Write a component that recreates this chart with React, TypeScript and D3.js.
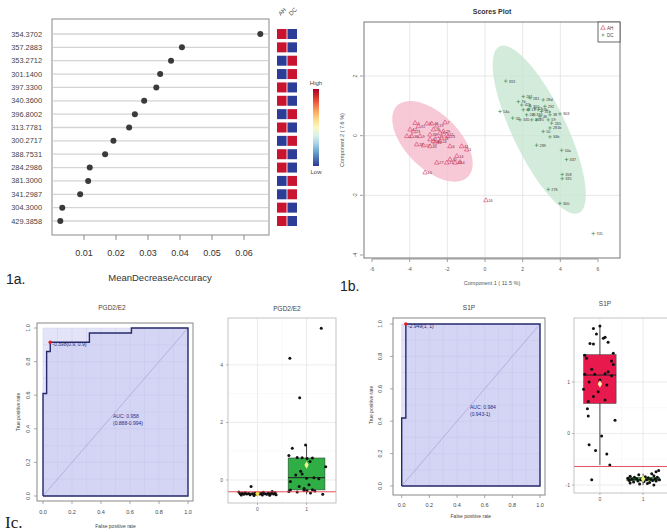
import React from 'react';
import * as d3 from 'd3';

const FONT = "'Liberation Sans', Arial, Helvetica, sans-serif";

// ---------- 1a: variable importance ----------
const featureLabels = ['354.3702','357.2883','353.2712','301.1400','397.3300','340.3600','396.8002','313.7781','300.2717','388.7531','284.2986','381.3000','341.2987','304.3000','429.3858'];
const meanDecreaseAccuracy = [0.0651,0.0406,0.0372,0.0338,0.0326,0.0288,0.0259,0.0241,0.0192,0.0166,0.0118,0.0113,0.0088,0.0032,0.0026];
const ahLevel = [1,1,0,0,1,1,0,1,0,1,1,0,0,1,1];
const dcLevel = [0,0,1,1,0,0,1,0,1,0,0,1,1,0,0];
const heatGroups = ['AH','DC'];
const accuracyTicks = [0.01,0.02,0.03,0.04,0.05,0.06];

// ---------- 1b: scores plot ----------
const ahScores: [number, number][] = [
  [-3.98,0.2],[-3.71,0.42],[-3.54,0.31],[-3.09,0.4],[-2.83,0.4],[-2.12,0.44],[-2.56,0.33],[-2.74,0.2],
  [-2.39,0.09],[-2.03,0.03],[-2.56,-0.02],[-2.92,-0.13],[-3.45,-0.02],[-3.89,-0.02],[-4.15,-0.02],[-3.63,-0.3],
  [-3.27,-0.33],[-2.92,-0.36],[-2.65,-0.24],[-2.39,-0.19],[-1.86,-0.36],[-1.24,-0.36],[-0.97,-0.47],[-1.5,-0.69],
  [-1.86,-0.8],[-2.03,-0.91],[-1.59,-0.91],[-1.33,-0.89],[-2.56,-0.91],[-3.18,-1.24],[-2.92,0.03],[-2.3,-0.08],
  [-2.21,0.14],[-1.95,-0.02],[-2.74,-0.19],[-3.8,0.14],[0.05,-2.17]
];
const ahLabels = ['12','5','31','8','44','7','19','26','3','15','22','40','9','36','2','28','17','33','11','24','6','41','1','14','30','21','38','4','27','10','35','18','29','13','39','23','16'];
const dcScores: [number, number][] = [
  [1.1,1.83],[0.8,0.81],[1.47,0.59],[1.86,0.53],[2.03,1.31],[1.77,1.14],[2.39,1.26],[3.09,1.2],
  [2.39,0.98],[2.65,0.92],[2.83,0.87],[2.03,0.87],[2.21,0.7],[2.56,0.7],[2.92,0.64],[2.48,0.53],
  [2.74,0.53],[3.45,0.7],[3.98,0.73],[3.36,0.53],[3.54,0.42],[3.45,0.26],[3.09,0.14],[3.45,-0.04],
  [2.74,-0.32],[4.07,-0.49],[4.33,-0.8],[4.1,-1.3],[4.1,-1.44],[3.36,-1.8],[3.98,-2.27],[5.75,-3.28],
  [2.3,0.87],[1.95,1.03],[3.0,0.81],[3.18,0.98]
];
const dcLabels = ['333','54a','32','345','261','7b','281','28d','310','52','37b','48','221','330','46','249','25','38','303','59','265','281b','50','34b','289','50a','347','358','335','276','300','705','13','42b','31b','292'];
const scoreXTicks = [-6,-4,-2,0,2,4,6];
const scoreYTicks = [-4,-2,0,2];
const ahEllipse = { cx: -2.79, cy: -0.19, ux: 1.88, uy: -1.19, vx: -1.01, vy: -0.64 };
const dcEllipse = { cx: 2.88, cy: 0.2, ux: 2.11, uy: -2.79, vx: -1.29, vy: -0.39 };

// ---------- 1c: ROC curves and box plots ----------
const rocTicks = [0, 0.2, 0.4, 0.6, 0.8, 1.0];
const pgdRoc: [number, number][] = [[0,0],[0,0.61],[0.025,0.61],[0.025,0.86],[0.05,0.86],[0.05,0.915],[0.32,0.915],[0.32,0.97],[0.61,0.97],[0.61,1],[1,1]];
const pgdThreshold: [number, number] = [0.05, 0.915];
const s1pRoc: [number, number][] = [[0,0],[0,0.42],[0.03,0.42],[0.03,1],[1,1]];
const s1pThreshold: [number, number] = [0.03, 1];

const pgdGroup0 = [-0.23,-0.4,-0.42,-0.43,-0.44,-0.44,-0.45,-0.45,-0.46,-0.46,-0.47,-0.47,-0.47,-0.48,-0.48,-0.48,-0.49,-0.49,-0.49,-0.5,-0.5,-0.5,-0.51,-0.51,-0.52,-0.52,-0.53,-0.54];
const pgdJitter0 = [-0.13,0.3,-0.38,0.12,-0.25,0.36,-0.05,0.22,-0.31,0.08,-0.18,0.27,0.01,-0.35,0.15,-0.1,0.33,-0.22,0.05,-0.28,0.19,-0.02,0.38,-0.15,0.1,-0.33,0.25,-0.07];
const pgdGroup1 = [5.27,4.23,2.86,1.22,1.1,0.85,0.78,0.77,0.76,0.75,0.64,0.46,0.3,0.21,0.17,0.08,0.06,0.04,-0.05,-0.17,-0.23,-0.3,-0.34,-0.35,-0.36,-0.37,-0.38,-0.4,-0.42,-0.45,-0.5];
const pgdJitter1 = [0.3,-0.34,-0.14,-0.02,-0.29,-0.36,-0.19,-0.09,0.12,0.01,0.07,0.39,-0.12,-0.09,-0.22,0.15,0,0.25,-0.33,0.05,-0.15,-0.05,0.12,-0.33,-0.05,0.01,0.17,-0.36,-0.19,0.08,0.33];
const pgdCutoff = -0.41;
const pgdYTicks = [0, 2, 4];

const s1pGroup0 = [2.09,2.04,1.93,1.87,1.85,1.77,1.75,1.74,1.56,1.52,1.46,1.41,1.34,1.25,1.2,1.16,1.15,1.15,1.12,1.04,1.0,0.94,0.86,0.81,0.72,0.65,0.62,0.48,0.34,0.26,-0.05,-0.22,-0.33,-0.4,-0.61,-0.9];
const s1pJitter0 = [0,-0.15,-0.08,0.12,0.08,0.19,-0.23,-0.15,0.31,-0.35,-0.31,0.27,0.31,-0.19,0.19,0.12,-0.12,-0.35,0.27,0,-0.25,0.16,-0.38,-0.04,-0.15,0.12,-0.27,-0.29,-0.27,0.35,0.04,-0.25,-0.1,0.16,0.23,-0.19];
const s1pGroup1 = [-0.72,-0.74,-0.78,-0.8,-0.82,-0.83,-0.84,-0.85,-0.85,-0.86,-0.87,-0.87,-0.88,-0.88,-0.89,-0.89,-0.9,-0.9,-0.9,-0.91,-0.91,-0.92,-0.92,-0.93,-0.94,-0.95,-0.96,-0.97,-0.98,-1.0];
const s1pJitter1 = [0.36,0.3,0.2,-0.1,0.25,-0.3,0.05,0.33,-0.2,0.12,-0.35,0.0,0.28,-0.15,0.18,-0.26,0.08,-0.05,0.38,-0.32,0.22,-0.12,0.3,0.02,-0.22,0.15,-0.3,0.1,-0.08,0.25];
const s1pCutoff = -0.64;
const s1pYTicks = [-1, 0, 1];

// ================= Components =================
function Panel1a() {
  const x = d3.scaleLinear().domain([0, 0.06]).range([52, 244]);
  const y = d3.scalePoint<string>().domain(featureLabels).range([34, 221]);
  const hx = d3.scaleBand<string>().domain(heatGroups).range([277, 297]).paddingInner(0.08);
  const heatColor = (v: number) => (v ? '#c8142f' : '#2c3d98');
  const legendY = d3.scaleLinear().domain([0, 1]).range([89, 166]);
  const stops = d3.range(0, 1.0001, 0.1);
  return (
    <g fontFamily={FONT}>
      <defs>
        <linearGradient id="heatLegend" x1="0" y1="0" x2="0" y2="1">
          {stops.map((t) => (
            <stop key={t} offset={t} stopColor={d3.interpolateRdYlBu(t)} />
          ))}
        </linearGradient>
      </defs>
      {featureLabels.map((f, i) => (
        <g key={f}>
          <line x1={53} x2={268} y1={y(f)} y2={y(f)} stroke="#d4d4d4" strokeWidth={1.3} />
          <text x={42} y={y(f)! + 2.5} fontSize={7.4} fill="#444" textAnchor="end">{f}</text>
          <circle cx={x(meanDecreaseAccuracy[i])} cy={y(f)} r={3} fill="#3a3a3a" />
          <rect x={hx('AH')} y={y(f)! - 5} width={hx.bandwidth()} height={10} fill={heatColor(ahLevel[i])} />
          <rect x={hx('DC')} y={y(f)! - 5} width={hx.bandwidth()} height={10} fill={heatColor(dcLevel[i])} />
        </g>
      ))}
      <rect x={52} y={19} width={217} height={216} fill="none" stroke="#8a8a8a" strokeWidth={1} />
      {accuracyTicks.map((t) => (
        <g key={t}>
          <line x1={x(t)} x2={x(t)} y1={235} y2={240} stroke="#8a8a8a" />
          <text x={x(t)} y={256} fontSize={9} fill="#333" textAnchor="middle">{t.toFixed(2)}</text>
        </g>
      ))}
      <text x={160} y={281} fontSize={9.5} fill="#333" textAnchor="middle">MeanDecreaseAccuracy</text>
      <text x={6} y={284} fontSize={14} fill="#222">1a.</text>
      {heatGroups.map((g) => (
        <text key={g} transform={`translate(${hx(g)! + hx.bandwidth() / 2 - 1},16) rotate(-45)`} fontSize={6} fill="#444">{g}</text>
      ))}
      <rect x={313} y={legendY(0)} width={6} height={legendY(1) - legendY(0)} fill="url(#heatLegend)" />
      <text x={316} y={85} fontSize={6} fill="#444" textAnchor="middle">High</text>
      <text x={316} y={174} fontSize={6} fill="#444" textAnchor="middle">Low</text>
    </g>
  );
}

function Panel1b() {
  const x = d3.scaleLinear().domain([-6, 6]).range([372, 598]);
  const y = d3.scaleLinear().domain([-4, 2]).range([255, 76]);
  const ellipse = (e: typeof ahEllipse) =>
    d3.line()(
      d3.range(0, 361, 4).map((deg) => {
        const t = (deg * Math.PI) / 180;
        return [x(e.cx + e.ux * Math.cos(t) + e.vx * Math.sin(t)), y(e.cy + e.uy * Math.cos(t) + e.vy * Math.sin(t))] as [number, number];
      })
    ) + 'Z';
  const tri = d3.symbol(d3.symbolTriangle, 9)();
  const L = 364, T = 22, R = 620, B = 258;
  return (
    <g fontFamily={FONT}>
      <text x={492} y={14} fontSize={7} fontWeight="bold" fill="#333" textAnchor="middle">Scores Plot</text>
      {scoreXTicks.slice(1, -1).map((t) => (
        <line key={t} x1={x(t)} x2={x(t)} y1={T} y2={B} stroke="#e2e2e2" strokeWidth={0.8} />
      ))}
      {scoreYTicks.slice(1).map((t) => (
        <line key={t} x1={L} x2={R} y1={y(t)} y2={y(t)} stroke="#e2e2e2" strokeWidth={0.8} />
      ))}
      <path d={ellipse(ahEllipse)} fill="#f5b9c9" opacity={0.78} />
      <path d={ellipse(dcEllipse)} fill="#c6e6cf" opacity={0.78} />
      {ahScores.map(([a, b], i) => (
        <g key={'a' + i}>
          <path d={tri!} transform={`translate(${x(a)},${y(b)})`} fill="none" stroke="#d93a68" strokeWidth={0.6} />
          <text x={x(a) + 2.5} y={y(b) + 1.5} fontSize={3.8} fill="#7a2a40">{ahLabels[i]}</text>
        </g>
      ))}
      {dcScores.map(([a, b], i) => (
        <g key={'d' + i}>
          <path d={`M${x(a) - 1.8},${y(b)}H${x(a) + 1.8}M${x(a)},${y(b) - 1.8}V${y(b) + 1.8}`} stroke="#3b8a52" strokeWidth={0.6} />
          <text x={x(a) + 3} y={y(b) + 1.5} fontSize={3.8} fill="#3d3d3d">{dcLabels[i]}</text>
        </g>
      ))}
      <rect x={L} y={T} width={R - L} height={B - T} fill="none" stroke="#777" strokeWidth={1} />
      {scoreXTicks.map((t) => (
        <g key={t}>
          <line x1={x(t)} x2={x(t)} y1={B + 1} y2={B + 4} stroke="#777" strokeWidth={0.7} />
          <text x={x(t)} y={271} fontSize={5} fill="#555" textAnchor="middle">{t}</text>
        </g>
      ))}
      <line x1={x(-6)} x2={x(6)} y1={B + 1} y2={B + 1} stroke="#777" strokeWidth={0.7} />
      {scoreYTicks.map((t) => (
        <g key={t}>
          <line x1={L - 4} x2={L - 1} y1={y(t)} y2={y(t)} stroke="#777" strokeWidth={0.7} />
          <text transform={`translate(${L - 7},${y(t)}) rotate(-90)`} fontSize={5} fill="#555" textAnchor="middle">{t}</text>
        </g>
      ))}
      <text x={492} y={285} fontSize={5.5} fill="#555" textAnchor="middle">Component 1 ( 11.5 %)</text>
      <text transform={`translate(344,140) rotate(-90)`} fontSize={5.5} fill="#555" textAnchor="middle">Component 2 ( 7.6 %)</text>
      <rect x={598} y={22} width={22} height={20} fill="white" stroke="#444" strokeWidth={0.8} />
      <path d={tri!} transform="translate(603,28)" fill="none" stroke="#d93a68" strokeWidth={0.6} />
      <text x={607} y={29.5} fontSize={4.5} fill="#444">AH</text>
      <path d="M601.5,35H604.5M603,33.5V36.5" stroke="#3b8a52" strokeWidth={0.6} />
      <text x={607} y={36.5} fontSize={4.5} fill="#444">DC</text>
      <text x={340} y={291} fontSize={14} fill="#222">1b.</text>
    </g>
  );
}

type RocProps = {
  title: string; curve: [number, number][]; thr: [number, number]; thrLabel: string;
  auc: string[]; box: [number, number, number, number]; xr: [number, number]; yr: [number, number];
  titleXY: [number, number]; xTickY: number; xTitleY: number; yTickX: number; yTitleX: number; aucAt: [number, number];
};

function Roc(p: RocProps) {
  const x = d3.scaleLinear().domain([0, 1]).range(p.xr);
  const y = d3.scaleLinear().domain([0, 1]).range(p.yr);
  const line = d3.line<[number, number]>().x((d) => x(d[0])).y((d) => y(d[1]));
  const poly: [number, number][] = [...p.curve, [1, 0], [0, 0]];
  const [L, T, R, B] = p.box;
  const grid = d3.range(0, 1.0001, 0.1);
  const cx = (p.xr[0] + p.xr[1]) / 2;
  const cy = (p.yr[0] + p.yr[1]) / 2;
  return (
    <g fontFamily={FONT}>
      <text x={p.titleXY[0]} y={p.titleXY[1]} fontSize={6.5} fill="#444" textAnchor="middle">{p.title}</text>
      <rect x={x(0)} y={y(1)} width={x(1) - x(0)} height={y(0) - y(1)} fill="#e4e4f8" />
      <path d={line(poly)!} fill="#d4d4f4" />
      {grid.map((g) => (
        <g key={g}>
          <line x1={x(g)} x2={x(g)} y1={y(0)} y2={y(1)} stroke="#c6c6ea" strokeWidth={0.4} />
          <line x1={x(0)} x2={x(1)} y1={y(g)} y2={y(g)} stroke="#c6c6ea" strokeWidth={0.4} />
        </g>
      ))}
      <line x1={x(0)} y1={y(0)} x2={x(1)} y2={y(1)} stroke="#a4a4d6" strokeWidth={0.7} />
      <path d={line(poly)!} fill="none" stroke="#262a6a" strokeWidth={1.4} />
      <circle cx={x(p.thr[0])} cy={y(p.thr[1])} r={1.8} fill="#e02020" />
      <text x={x(p.thr[0]) + 2} y={y(p.thr[1]) + 4} fontSize={5} fill="#222a70">{p.thrLabel}</text>
      {p.auc.map((s, i) => (
        <text key={i} x={p.aucAt[0]} y={p.aucAt[1] + i * 7} fontSize={5} fill="#262a80">{s}</text>
      ))}
      <rect x={L} y={T} width={R - L} height={B - T} fill="none" stroke="#888" strokeWidth={1} />
      {rocTicks.map((t) => (
        <g key={t}>
          <line x1={x(t)} x2={x(t)} y1={B} y2={B + 3} stroke="#888" strokeWidth={0.7} />
          <text x={x(t)} y={p.xTickY} fontSize={5.5} fill="#444" textAnchor="middle">{t.toFixed(1)}</text>
          <line x1={L - 3} x2={L} y1={y(t)} y2={y(t)} stroke="#888" strokeWidth={0.7} />
          <text transform={`translate(${p.yTickX},${y(t)}) rotate(-90)`} fontSize={5.5} fill="#444" textAnchor="middle">{t.toFixed(1)}</text>
        </g>
      ))}
      <text x={cx} y={p.xTitleY} fontSize={5} fill="#444" textAnchor="middle">False positive rate</text>
      <text transform={`translate(${p.yTitleX},${cy}) rotate(-90)`} fontSize={5} fill="#444" textAnchor="middle">True positive rate</text>
    </g>
  );
}

type Group = { values: number[]; jitter: number[]; fill: string; meanFill: string };
type BoxProps = {
  title: string; titleXY: [number, number]; groups: Group[]; panel: [number, number, number, number];
  yDomain: [number, number]; yTicks: number[]; cutoff: number; yLabelX: number; xLabelY: number;
};

function BoxPanel(p: BoxProps) {
  const [L, T, R, B] = p.panel;
  const x = d3.scaleLinear().domain([-0.6, 1.6]).range([L, R]);
  const y = d3.scaleLinear().domain(p.yDomain).range([B, T]);
  const bw = 0.75;
  const minor: number[] = [];
  for (let i = 0; i < p.yTicks.length - 1; i++) minor.push((p.yTicks[i] + p.yTicks[i + 1]) / 2);
  const clipId = 'clip' + p.title.replace(/[^A-Za-z0-9]/g, '');
  return (
    <g fontFamily={FONT}>
      <defs>
        <clipPath id={clipId}><rect x={L} y={T} width={R - L} height={B - T} /></clipPath>
      </defs>
      <text x={p.titleXY[0]} y={p.titleXY[1]} fontSize={6.5} fill="#444" textAnchor="middle">{p.title}</text>
      <rect x={L} y={T} width={R - L} height={B - T} fill="white" />
      <g clipPath={`url(#${clipId})`}>
        {minor.map((t) => (
          <line key={'m' + t} x1={L} x2={R} y1={y(t)} y2={y(t)} stroke="#f2f2f2" strokeWidth={0.5} />
        ))}
        {[0.5].map((t) => (
          <line key={'mx' + t} x1={x(t)} x2={x(t)} y1={T} y2={B} stroke="#f2f2f2" strokeWidth={0.5} />
        ))}
        {p.yTicks.map((t) => (
          <line key={t} x1={L} x2={R} y1={y(t)} y2={y(t)} stroke="#e6e6e6" strokeWidth={0.8} />
        ))}
        {[0, 1].map((t) => (
          <line key={'x' + t} x1={x(t)} x2={x(t)} y1={T} y2={B} stroke="#e6e6e6" strokeWidth={0.8} />
        ))}
        {p.groups.map((g, gi) => {
          const s = [...g.values].sort(d3.ascending);
          const q1 = d3.quantile(s, 0.25)!;
          const med = d3.quantile(s, 0.5)!;
          const q3 = d3.quantile(s, 0.75)!;
          const iqr = q3 - q1;
          const lo = d3.min(s.filter((v) => v >= q1 - 1.5 * iqr))!;
          const hi = d3.max(s.filter((v) => v <= q3 + 1.5 * iqr))!;
          const mean = d3.mean(s)!;
          const diamond = d3.symbol(d3.symbolDiamond, 16)();
          return (
            <g key={gi}>
              <line x1={x(gi)} x2={x(gi)} y1={y(hi)} y2={y(lo)} stroke="#222" strokeWidth={0.8} />
              <rect x={x(gi - bw / 2)} y={y(q3)} width={x(gi + bw / 2) - x(gi - bw / 2)} height={Math.max(1, y(q1) - y(q3))} fill={g.fill} stroke="#333" strokeWidth={0.5} />
              <line x1={x(gi - bw / 2)} x2={x(gi + bw / 2)} y1={y(med)} y2={y(med)} stroke="#222" strokeWidth={1} />
              {g.values.map((v, i) => (
                <circle key={i} cx={x(gi + g.jitter[i])} cy={y(v)} r={1.5} fill="#111" />
              ))}
              <path d={diamond!} transform={`translate(${x(gi)},${y(mean)})`} fill={g.meanFill} />
            </g>
          );
        })}
        <line x1={L} x2={R} y1={y(p.cutoff)} y2={y(p.cutoff)} stroke="#e23c4c" strokeWidth={0.9} />
      </g>
      <rect x={L} y={T} width={R - L} height={B - T} fill="none" stroke="#b5b5b5" strokeWidth={0.8} />
      {p.yTicks.map((t) => (
        <g key={t}>
          <line x1={L - 2} x2={L} y1={y(t)} y2={y(t)} stroke="#888" strokeWidth={0.6} />
          <text x={p.yLabelX} y={y(t) + 1.8} fontSize={5} fill="#555" textAnchor="end">{t}</text>
        </g>
      ))}
      {[0, 1].map((t) => (
        <g key={t}>
          <line x1={x(t)} x2={x(t)} y1={B} y2={B + 2} stroke="#888" strokeWidth={0.6} />
          <text x={x(t)} y={p.xLabelY} fontSize={5} fill="#555" textAnchor="middle">{t}</text>
        </g>
      ))}
    </g>
  );
}

export default function App() {
  return (
    <svg width={667} height={532} style={{ position: 'absolute', left: 0, top: 0, background: 'white' }}>
      <rect width={667} height={532} fill="white" />
      <Panel1a />
      <Panel1b />
      <Roc title="PGD2/E2" curve={pgdRoc} thr={pgdThreshold} thrLabel="-0.398(0.9, 0.9)" auc={['AUC: 0.958', '(0.888-0.994)']}
        box={[37, 323, 193, 501]} xr={[43, 188]} yr={[496, 328]} titleXY={[112, 310]} xTickY={514} xTitleY={528}
        yTickX={30} yTitleX={20} aucAt={[113, 418]} />
      <BoxPanel title="PGD2/E2" titleXY={[287, 311]} panel={[228, 318, 336, 503]} yDomain={[-0.8, 5.63]} yTicks={pgdYTicks}
        cutoff={pgdCutoff} yLabelX={223} xLabelY={511}
        groups={[
          { values: pgdGroup0, jitter: pgdJitter0, fill: '#d8163f', meanFill: '#f3e04a' },
          { values: pgdGroup1, jitter: pgdJitter1, fill: '#2fae45', meanFill: '#e6f78a' },
        ]} />
      <Roc title="S1P" curve={s1pRoc} thr={s1pThreshold} thrLabel="-2.949(1, 1)" auc={['AUC: 0.984', '(0.943-1)']}
        box={[393, 318, 545, 495]} xr={[401.7, 540]} yr={[486, 324]} titleXY={[469, 310]} xTickY={507} xTitleY={518}
        yTickX={382} yTitleX={373} aucAt={[470, 409]} />
      <BoxPanel title="S1P" titleXY={[605, 306]} panel={[574, 318, 669, 493]} yDomain={[-1.155, 2.243]} yTicks={s1pYTicks}
        cutoff={s1pCutoff} yLabelX={570} xLabelY={501}
        groups={[
          { values: s1pGroup0, jitter: s1pJitter0, fill: '#e8194c', meanFill: '#fff5a8' },
          { values: s1pGroup1, jitter: s1pJitter1, fill: '#39b54a', meanFill: '#f0f070' },
        ]} />
      <text x={5} y={528} fontSize={17} fontFamily="'Liberation Serif', 'Times New Roman', serif" fill="#222">Ic.</text>
    </svg>
  );
}
